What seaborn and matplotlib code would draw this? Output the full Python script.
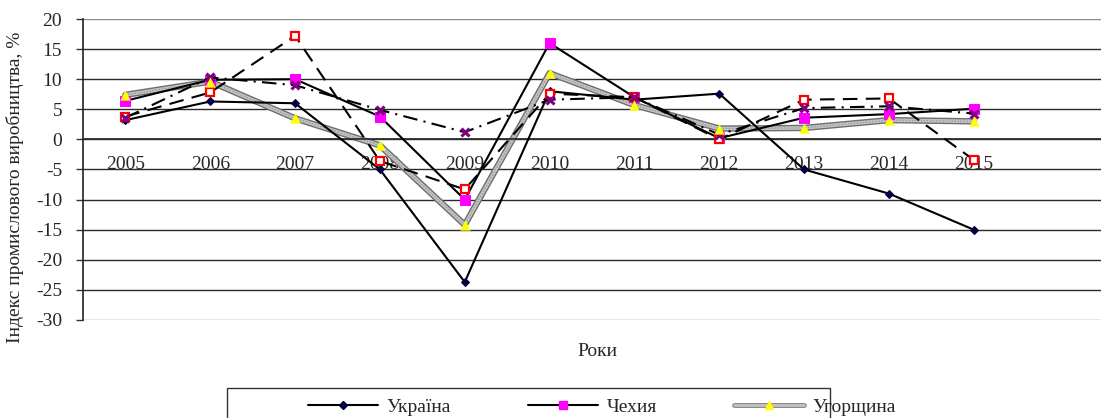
import matplotlib
matplotlib.use("Agg")
import matplotlib.pyplot as plt
import matplotlib.patheffects as pe
import matplotlib.patches as mpatches
from matplotlib.lines import Line2D
import seaborn as sns
import numpy as np

years = ["2005", "2006", "2007", "2008", "2009", "2010", "2011", "2012", "2013", "2014", "2015"]
ukraine = [3.2, 6.3, 6.0, -5.0, -23.7, 8.0, 6.6, 7.6, -5.0, -9.0, -15.0]
czech = [6.4, 9.9, 10.0, 3.8, -10.0, 16.0, 7.0, 0.2, 3.6, 4.2, 5.1]
hungary = [7.4, 9.6, 3.5, -1.0, -14.2, 11.0, 5.7, 1.8, 1.9, 3.2, 3.0]
poland = [3.8, 7.8, 17.2, -3.6, -8.3, 7.6, 7.0, 0.0, 6.6, 6.8, -3.4]
slovakia = [3.6, 10.3, 9.0, 4.9, 1.2, 6.6, 7.0, 0.8, 5.2, 5.5, 4.3]
series_names = ["Україна", "Чехия", "Угорщина", "Польща", "Словаччина"]
y_ticks = [20, 15, 10, 5, 0, -5, -10, -15, -20, -25, -30]

sns.set_theme(style="white")
plt.rcParams['font.family'] = ['Liberation Serif', 'DejaVu Serif']
FS = 14

fig = plt.figure(figsize=(11.01, 4.18), dpi=100)
ax = fig.add_axes([83/1101, 1-320/418, 1-83/1101, (320-19)/418])

x = np.arange(len(years))

for yv in y_ticks:
    col = '#2a2a2a' if -30 < yv < 20 else '#8a8a8a'
    ax.axhline(yv, color=col, lw=1.0, zorder=0)

# Hungary: thick grey hatched-looking line, markers drawn separately
sns.lineplot(x=x, y=hungary, ax=ax, color='#c4c4c4', lw=2.6, zorder=2,
             path_effects=[pe.Stroke(linewidth=4.6, foreground='#6e6e6e'), pe.Normal()])
sns.lineplot(x=x, y=hungary, ax=ax, color='#9a9a9a', lw=1.0, zorder=2, dashes=(1, 1.2))
sns.scatterplot(x=x, y=hungary, ax=ax, marker='^', s=55, color='yellow', edgecolor='yellow',
                linewidth=0, zorder=5)
sns.lineplot(x=x, y=ukraine, ax=ax, color='black', lw=1.5, marker='D', markersize=4,
             markerfacecolor='#000040', markeredgecolor='#000040', zorder=3)
sns.lineplot(x=x, y=czech, ax=ax, color='black', lw=1.5, marker='s', markersize=7,
             markerfacecolor='magenta', markeredgecolor='magenta', zorder=3)
sns.lineplot(x=x, y=poland, ax=ax, color='black', lw=1.5, marker='s', markersize=6,
             markerfacecolor='white', markeredgecolor='red', markeredgewidth=1.6,
             dashes=(7, 4), zorder=4)
sns.lineplot(x=x, y=slovakia, ax=ax, color='black', lw=1.5, marker='x', markersize=6,
             markeredgecolor='#800080', markeredgewidth=2.2,
             dashes=(7, 3, 1, 3), zorder=4)

ax.set_xlim(-0.5, 11.5)
ax.set_ylim(-30, 20)
ax.set_yticks(y_ticks)
ax.set_yticklabels([str(v) for v in y_ticks], fontsize=FS)

ax.spines['bottom'].set_position(('data', 0))
ax.spines['bottom'].set_color('#2a2a2a')
ax.spines['top'].set_visible(False)
ax.spines['right'].set_visible(False)
ax.spines['left'].set_color('#222222')
ax.spines['left'].set_linewidth(1.2)

ax.set_xticks(x)
ax.set_xticklabels(years, fontsize=FS)
ax.set_xticks(np.arange(-0.5, 12.0, 1.0), minor=True)
ax.tick_params(axis='x', which='major', length=0, pad=12)
ax.tick_params(axis='x', which='minor', length=5, direction='out', color='#333333', width=1)
ax.tick_params(axis='y', which='major', length=5, direction='out', color='#333333', width=1, pad=10, left=True)

fig.text(15/1101, 1-187/418, "Індекс промислового виробництва, %", rotation=90,
         ha='center', va='center', fontsize=FS)
fig.text(597/1101, 1-352/418, "Роки", ha='center', va='center', fontsize=FS)

# Legend (only the first row is visible in the original)
h_ua = Line2D([], [], color='black', lw=1.5, marker='D', markersize=4,
              markerfacecolor='#000040', markeredgecolor='#000040')
h_cz = Line2D([], [], color='black', lw=1.5, marker='s', markersize=6,
              markerfacecolor='magenta', markeredgecolor='magenta')
h_hu = Line2D([], [], color='#c4c4c4', lw=2.0)
h_hu.set_path_effects([pe.Stroke(linewidth=3.4, foreground='#7a7a7a'), pe.Normal()])
h_hu_m = Line2D([], [], color='none', lw=0, marker='^', markersize=6,
                markerfacecolor='yellow', markeredgecolor='yellow')
leg = fig.legend([h_ua, h_cz, (h_hu, h_hu_m)], series_names[:3], loc='upper left',
                 bbox_to_anchor=(308/1101, 1-398/418), ncol=3, frameon=False,
                 fontsize=FS, handlelength=3.6, columnspacing=3.95, borderaxespad=0,
                 borderpad=0, handletextpad=0.45)

frame = mpatches.Rectangle((227/1101, -0.2), (830-227)/1101, 0.2 + 1-388/418,
                           transform=fig.transFigure, fill=False, edgecolor='#333333', lw=1.0)
fig.patches.append(frame)

fig.savefig("out.png", dpi=100)
